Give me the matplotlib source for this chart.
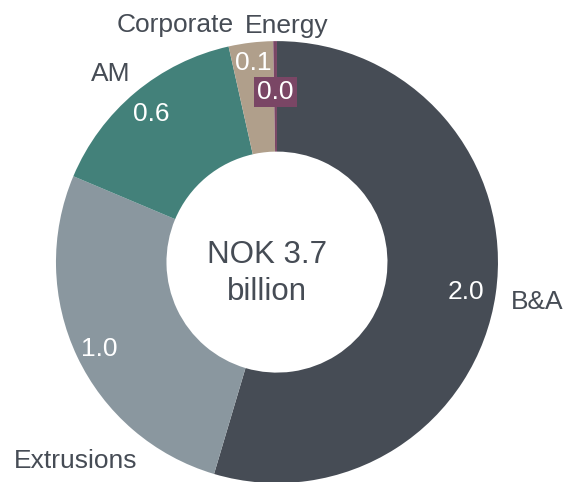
# Donut chart: NOK 3.7 billion split by business area

import numpy as np
import matplotlib.pyplot as plt

plt.rcParams['font.family'] = ['Liberation Sans', 'DejaVu Sans']

# -------------------- Data --------------------
segments = ["B&A", "Extrusions", "AM", "Corporate", "Energy"]
values = [2.02, 0.99, 0.56, 0.12, 0.01]
shown = ["2.0", "1.0", "0.6", "0.1", "0.0"]
colors = ["#464c55", "#8a979f", "#43817a", "#b09f8b", "#7a4665"]
total_label = "NOK 3.7\nbillion"

text_color = "#464c55"

# -------------------- Figure --------------------
fig = plt.figure(figsize=(5.65, 4.82), dpi=100)
ax = fig.add_axes([0, 0, 1, 1])

wedges, _ = ax.pie(values, colors=colors, startangle=90, counterclock=False,
                   radius=1.0, wedgeprops=dict(width=0.5, linewidth=0))

# pie() resets the limits, so set them afterwards
ax.set_xlim(-1.253, 1.303)
ax.set_ylim(-0.995, 1.186)
ax.set_aspect("equal")
ax.axis("off")

# -------------------- Labels --------------------
# (radius of value label, radius of name label, angle shift of name label in deg)
label_layout = [(0.865, 1.19, 0), (0.89, 1.27, 19), (0.89, 1.144, 1.2),
                (0.92, 1.176, 16.2), (0.78, 1.08, -2.8)]

for w, name, txt, (rv, rn, shift) in zip(wedges, segments, shown, label_layout):
    mid = np.deg2rad((w.theta1 + w.theta2) / 2)
    x, y = rv * np.cos(mid), rv * np.sin(mid)
    if name == "Energy":
        ax.text(x, y, txt, ha="center", va="center_baseline", fontsize=19, color="white",
                bbox=dict(boxstyle="square,pad=0.12", fc=w.get_facecolor(), ec="none"))
    else:
        ax.text(x, y, txt, ha="center", va="center_baseline", fontsize=19, color="white")
    a = mid + np.deg2rad(shift)
    ax.text(rn * np.cos(a), rn * np.sin(a), name, ha="center", va="center_baseline",
            fontsize=19, color=text_color)

ax.text(-0.045, -0.05, total_label, ha="center", va="center", fontsize=22.5,
        color=text_color, linespacing=1.3)

fig.savefig("out.png", dpi=100)
